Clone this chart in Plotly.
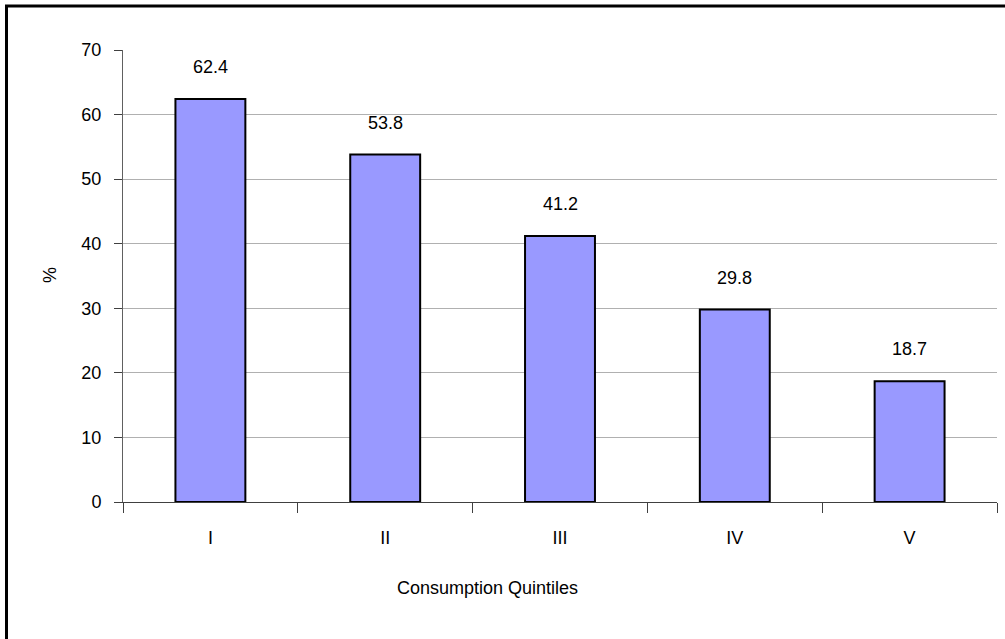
import plotly.graph_objects as go

categories = ["I", "II", "III", "IV", "V"]
values = [62.4, 53.8, 41.2, 29.8, 18.7]
value_labels = ["62.4", "53.8", "41.2", "29.8", "18.7"]
y_ticks = [0, 10, 20, 30, 40, 50, 60, 70]

FONT = "Liberation Sans, Arial, sans-serif"

fig = go.Figure()
fig.add_trace(go.Bar(
    x=categories, y=values,
    marker=dict(color="#9999FF", line=dict(color="black", width=2)),
    width=0.4,
    hoverinfo="skip",
))

for c, v, t in zip(categories, values, value_labels):
    fig.add_annotation(x=c, y=v, text=t, showarrow=False, yanchor="middle",
                       yshift=32, font=dict(family=FONT, size=18, color="black"))

fig.add_annotation(xref="paper", yref="paper", x=(487 - 123) / 874, y=(502 - 588) / 452,
                   text="Consumption Quintiles", showarrow=False,
                   xanchor="center", yanchor="middle",
                   font=dict(family=FONT, size=18, color="black"))
fig.add_annotation(xref="paper", yref="paper", x=(50 - 123) / 874, y=(502 - 275) / 452,
                   text="%", showarrow=False, textangle=-90,
                   xanchor="center", yanchor="middle",
                   font=dict(family=FONT, size=18, color="black"))

# figure frame (top and left edges visible)
fig.add_shape(type="rect", xref="paper", yref="paper",
              x0=(6.5 - 123) / 874, x1=(1015 - 123) / 874,
              y0=(502 - 650) / 452, y1=(502 - 6) / 452,
              line=dict(color="black", width=3), fillcolor="rgba(0,0,0,0)", layer="above")

fig.update_layout(
    width=1005, height=639,
    margin=dict(l=123, r=8, t=50, b=137),
    paper_bgcolor="white", plot_bgcolor="white",
    showlegend=False,
    font=dict(family=FONT, size=18, color="black"),
)
fig.update_xaxes(
    type="category", tickson="boundaries", ticks="outside", ticklen=10,
    tickcolor="#404040", tickwidth=1,
    showline=True, linecolor="#404040", linewidth=1,
    showgrid=False, tickfont=dict(family=FONT, size=18, color="black"),
    ticklabelstandoff=19,
)
fig.update_yaxes(
    range=[0, 70], tickvals=y_ticks, ticks="outside", ticklen=8,
    tickcolor="#404040", tickwidth=1,
    showline=True, linecolor="#606060", linewidth=1,
    showgrid=True, gridcolor="#b0b0b0", gridwidth=1, zeroline=False,
    tickfont=dict(family=FONT, size=18, color="black"),
    ticklabelstandoff=9,
)

fig.write_html("out.html")
